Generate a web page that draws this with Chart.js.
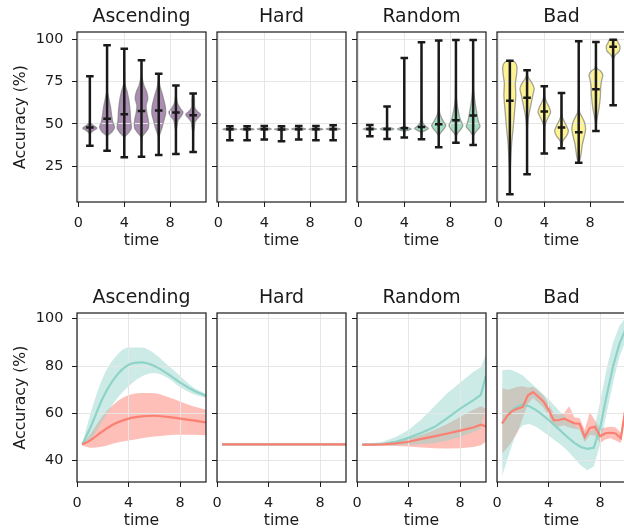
<!DOCTYPE html>
<html>
<head>
<meta charset="utf-8">
<script src="https://cdn.jsdelivr.net/npm/chart.js@4.4.1/dist/chart.umd.min.js"></script>
<style>
  html, body { margin: 0; padding: 0; background: #fff; overflow: hidden; }
  #wrap { position: relative; width: 624px; height: 531px; overflow: hidden; }
  canvas { position: absolute; }
</style>
</head>
<body>
<div id="wrap"></div>
<script>
// small multiples: violins (top row) and mean +/- band lines (bottom row)

const TITLES = ["Ascending", "Hard", "Random", "Bad"];
const VIOLIN_POS = [1, 2.5, 4, 5.5, 7, 8.5, 10];

// --- top row: min, max, mean per violin, and [value, half-width] outline profiles
const ascMin = [37.1, 34.1, 30.2, 30.6, 31.5, 32.1, 33.3];
const ascMax = [78.2, 96.7, 94.5, 87.7, 79.8, 72.8, 68.1];
const ascMean = [47.9, 53.0, 55.8, 57.7, 57.9, 56.8, 55.2];
const ascShape = [
  [[37.1, 0], [44, 0.02], [46, 0.3], [47.5, 0.62], [49, 0.3], [51, 0.03], [78.2, 0]],
  [[34.1, 0], [43, 0.05], [45, 0.4], [48, 0.65], [51, 0.5], [55, 0.4], [60, 0.3], [66, 0.12], [70, 0.02], [96.7, 0]],
  [[30.2, 0], [42, 0.03], [44.5, 0.35], [47.5, 0.62], [52, 0.55], [58, 0.5], [64, 0.4], [69, 0.25], [74, 0.05], [94.5, 0]],
  [[30.6, 0], [42, 0.03], [44.5, 0.3], [47.5, 0.6], [52, 0.6], [57, 0.45], [61, 0.4], [65, 0.55], [69, 0.45], [73, 0.2], [79, 0.03], [87.7, 0]],
  [[31.5, 0], [42, 0.02], [45, 0.15], [48, 0.3], [52, 0.45], [56, 0.6], [60, 0.58], [64, 0.45], [68, 0.3], [72, 0.12], [76, 0.03], [79.8, 0]],
  [[32.1, 0], [46, 0.02], [49, 0.1], [52, 0.18], [55, 0.5], [57, 0.62], [59, 0.4], [62, 0.15], [66, 0.04], [72.8, 0]],
  [[33.3, 0], [45, 0.03], [48, 0.1], [51, 0.15], [53, 0.35], [55.5, 0.65], [57.5, 0.35], [60, 0.13], [64, 0.12], [67, 0.08], [68.1, 0]],
];

const hardMin = [40.3, 40.3, 40.7, 39.7, 40.7, 40.3, 40.3];
const hardMax = [48.6, 48.6, 48.8, 48.6, 48.8, 48.8, 49.2];
const hardMean = [46.8, 46.8, 46.9, 46.7, 46.9, 46.8, 46.9];
const hardShape = [
  [[40.3, 0], [45.8, 0.02], [46.4, 0.35], [46.9, 0.62], [47.4, 0.35], [48.0, 0.02], [48.6, 0]],
  [[40.3, 0], [45.8, 0.02], [46.4, 0.35], [46.9, 0.62], [47.4, 0.35], [48.0, 0.02], [48.6, 0]],
  [[40.7, 0], [45.9, 0.02], [46.5, 0.35], [47.0, 0.62], [47.5, 0.35], [48.1, 0.02], [48.8, 0]],
  [[39.7, 0], [45.7, 0.02], [46.3, 0.35], [46.8, 0.62], [47.3, 0.35], [47.9, 0.02], [48.6, 0]],
  [[40.7, 0], [45.9, 0.02], [46.5, 0.35], [47.0, 0.62], [47.5, 0.35], [48.1, 0.02], [48.8, 0]],
  [[40.3, 0], [45.8, 0.02], [46.4, 0.35], [46.9, 0.62], [47.4, 0.35], [48.0, 0.02], [48.8, 0]],
  [[40.3, 0], [45.9, 0.02], [46.5, 0.35], [47.0, 0.62], [47.5, 0.35], [48.1, 0.02], [49.2, 0]],
];

const randMin = [42.7, 41.1, 41.9, 40.9, 36.1, 38.9, 37.5];
const randMax = [49.4, 60.4, 89.1, 98.4, 99.4, 99.8, 99.8];
const randMean = [47.0, 47.0, 47.4, 48.2, 49.8, 52.2, 55.0];
const randShape = [
  [[42.7, 0], [46, 0.05], [46.5, 0.35], [47, 0.6], [47.5, 0.35], [48, 0.05], [49.4, 0]],
  [[41.1, 0], [45.8, 0.05], [46.4, 0.35], [47, 0.6], [47.6, 0.35], [48.3, 0.05], [60.4, 0]],
  [[41.9, 0], [45.5, 0.05], [46.3, 0.35], [47, 0.6], [47.8, 0.35], [48.8, 0.06], [55, 0.01], [89.1, 0]],
  [[40.9, 0], [45, 0.05], [46, 0.3], [47.3, 0.6], [48.7, 0.35], [50.5, 0.12], [55, 0.03], [98.4, 0]],
  [[36.1, 0], [43, 0.03], [45, 0.2], [47, 0.45], [49, 0.62], [51, 0.45], [53.5, 0.25], [56, 0.1], [60, 0.03], [99.4, 0]],
  [[38.9, 0], [43, 0.03], [45, 0.2], [47, 0.45], [49, 0.6], [51, 0.48], [54, 0.32], [57, 0.22], [61, 0.12], [66, 0.04], [99.8, 0]],
  [[37.5, 0], [43, 0.03], [45, 0.2], [47, 0.45], [48.5, 0.6], [50.5, 0.5], [54, 0.38], [58, 0.28], [62, 0.18], [66, 0.1], [71, 0.03], [99.8, 0]],
];

const badMin = [8.3, 20.1, 32.4, 35.5, 27.0, 45.8, 61.0];
const badMax = [87.5, 81.8, 72.4, 68.3, 99.0, 98.6, 99.9];
const badMean = [63.7, 65.5, 57.4, 47.9, 45.1, 70.5, 95.7];
const badShape = [
  [[8.3, 0], [20, 0.02], [29, 0.08], [38, 0.15], [47, 0.28], [58, 0.42], [67, 0.52], [74, 0.48], [79, 0.58], [84, 0.62], [86.5, 0.45], [87.5, 0.15]],
  [[20.1, 0], [45, 0.02], [52, 0.08], [57, 0.2], [62, 0.35], [67, 0.5], [71, 0.62], [74, 0.45], [77, 0.15], [79, 0.03], [81.8, 0]],
  [[32.4, 0], [48, 0.03], [51, 0.15], [54, 0.35], [57, 0.55], [60, 0.42], [63, 0.2], [66, 0.05], [72.4, 0]],
  [[35.5, 0], [40, 0.12], [43, 0.45], [46, 0.6], [49, 0.42], [52, 0.2], [55, 0.05], [60, 0.02], [68.3, 0]],
  [[27.0, 0], [29, 0.12], [33, 0.22], [38, 0.32], [43, 0.5], [47, 0.6], [51, 0.5], [54, 0.3], [57, 0.08], [62, 0.02], [99.0, 0]],
  [[45.8, 0], [50, 0.03], [55, 0.15], [60, 0.28], [66, 0.38], [72, 0.42], [76, 0.5], [79, 0.6], [81.5, 0.38], [83, 0.08], [86, 0.01], [98.6, 0]],
  [[61.0, 0], [88, 0.02], [91, 0.2], [93, 0.52], [96, 0.6], [98, 0.45], [99.9, 0.32]],
];

// --- bottom row: mean line with upper / lower band, two series per panel
const ascX = [0.4, 1, 2, 3, 4, 5, 6, 7, 8, 9, 10];
const ascTeal = [46.8, 53.5, 66.5, 75.5, 80.5, 81.5, 80, 76.8, 73, 69.8, 67.4];
const ascTealHi = [47, 59, 75, 84, 87.8, 87.8, 85.3, 80.5, 75.8, 71, 68.3];
const ascTealLo = [46.6, 48.5, 57, 65.5, 71.5, 75.5, 77, 75, 71, 68.2, 66.6];
const ascRed = [46.8, 48.5, 52.5, 55.8, 57.8, 58.7, 59, 58.5, 57.8, 57, 56.2];
const ascRedHi = [47, 51, 59, 64.5, 67.6, 68.6, 68.5, 67, 65, 63, 61.5];
const ascRedLo = [46.5, 45.5, 46, 47.5, 48.5, 49.5, 50.2, 50.8, 51, 51, 50.8];

const hardX = [0.4, 2, 4, 6, 8, 10];
const hardTeal = [46.9, 46.9, 46.9, 46.9, 46.9, 46.9];
const hardTealHi = [47.3, 47.3, 47.3, 47.3, 47.3, 47.3];
const hardTealLo = [46.5, 46.5, 46.5, 46.5, 46.5, 46.5];
const hardRed = [46.9, 46.9, 46.9, 46.9, 46.9, 46.9];
const hardRedHi = [47.4, 47.4, 47.4, 47.4, 47.4, 47.4];
const hardRedLo = [46.4, 46.4, 46.4, 46.4, 46.4, 46.4];

const randX = [0.4, 1, 2, 3, 4, 5, 6, 7, 8, 9, 9.6, 10];
const randTeal = [46.8, 46.8, 47, 48, 49.7, 51.8, 54.2, 58, 62, 65.5, 67.8, 76];
const randTealHi = [47.2, 47.3, 48, 50, 53, 57.5, 63, 68.5, 73, 77.5, 79.5, 85];
const randTealLo = [46.4, 46.4, 46.4, 46.5, 46.7, 47, 47.5, 48.5, 50, 52, 53.5, 64];
const randRed = [46.8, 46.8, 46.9, 47.3, 48, 49.2, 50.3, 51.5, 52.7, 54, 55.2, 54.5];
const randRedHi = [47, 47.1, 47.3, 48.2, 49.5, 51, 53, 55.5, 58.5, 61.5, 63, 62];
const randRedLo = [46.5, 46.5, 46.4, 46.2, 46, 45.6, 45.3, 45.2, 45.3, 45.8, 46.5, 48];

const badTX = [0.4, 1, 1.5, 2, 2.5, 3, 3.5, 4, 4.5, 5, 5.5, 6, 6.5, 7, 7.5, 8, 8.5, 9, 9.5, 10];
const badTeal = [55.8, 60.5, 62.8, 63.8, 63, 61.5, 59.5, 57.2, 54.8, 52.3, 49.8, 47.5, 45.8, 45, 45.5, 54, 67.5, 80, 89.5, 96];
const badTealHi = [78.2, 78.5, 77.5, 76, 73.5, 71, 68.5, 66, 63, 60, 57.5, 55, 53, 52, 53, 65, 79, 90, 97, 101];
const badTealLo = [33.5, 44, 52, 55, 55.5, 54.5, 52.5, 50.5, 48.5, 46.5, 44, 41, 38, 36, 37.5, 47, 60, 73, 84, 91];
const badRX = [0.4, 0.8, 1.2, 1.6, 2.0, 2.4, 2.8, 3.2, 3.6, 4.0, 4.4, 4.8, 5.2, 5.6, 6.0, 6.4, 6.8, 7.2, 7.6, 8.0, 8.4, 8.8, 9.2, 9.6, 10.0];
const badRed = [55.8, 59, 61, 62, 62.7, 67.6, 69, 67, 65, 61.5, 57, 57.2, 57.8, 56.8, 55.8, 55.6, 50, 53.8, 54.3, 50.3, 51.6, 51.8, 51.5, 49.5, 63.5];
const badRedHi = [70.6, 70, 70.5, 71.2, 71.5, 70.8, 71.2, 69.5, 67.5, 64, 59.8, 59.5, 60, 63, 58.3, 58, 53, 60.5, 57, 53.5, 54, 54.3, 54, 51.8, 65.5];
const badRedLo = [43, 45.5, 48.5, 52, 58, 64, 66.5, 64.5, 62.5, 59, 54.5, 54.5, 55, 54, 53.5, 53.2, 47.8, 51, 50.5, 47.5, 49, 49.5, 48.5, 47.5, 61.5];

// --- styling
const FONT = "'DejaVu Sans', sans-serif";
const INK = "#1a1a1a";
const GRID = "#e6e6e6";
const TEAL = "#8dd3c7", RED = "#fb8072";
const TEAL_BAND = "rgba(141,211,199,0.45)", RED_BAND = "rgba(251,128,114,0.5)";
const VIOLIN_FILL = ["rgba(68,1,84,0.45)", "rgba(49,104,142,0.45)", "rgba(53,183,121,0.45)", "rgba(253,231,37,0.5)"];
const VIOLIN_EDGE = "rgba(125,125,125,0.7)";

const FRAME_LEFT = [77, 217, 357, 497];
const PANEL_W = 129, Y_W = 78, PAD_R = 8, PAD_T = 32, X_H = 50;

function violinDatasets(col, mins, maxs, means, shapes) {
  const ds = [];
  shapes.forEach((prof, i) => {
    const p = VIOLIN_POS[i];
    // right side going up, left side coming back down
    const pts = prof.map(([y, w]) => ({ x: p + w, y }));
    for (let k = prof.length - 1; k >= 0; k--) {
      const [y, w] = prof[k];
      if (w > 0) pts.push({ x: p - w, y });
    }
    pts.push({ ...pts[0] });
    ds.push({
      data: pts, showLine: true, fill: "shape", tension: 0.25,
      backgroundColor: VIOLIN_FILL[col], borderColor: VIOLIN_EDGE, borderWidth: 1.3,
      pointRadius: 0, order: 5,
    });
  });
  const cap = 0.33;
  const bars = [];
  VIOLIN_POS.forEach((p, i) => {
    bars.push(
      { x: p, y: mins[i] }, { x: p, y: maxs[i] }, { x: p, y: null },
      { x: p - cap, y: mins[i] }, { x: p + cap, y: mins[i] }, { x: p, y: null },
      { x: p - cap, y: maxs[i] }, { x: p + cap, y: maxs[i] }, { x: p, y: null },
      { x: p - cap, y: means[i] }, { x: p + cap, y: means[i] }, { x: p, y: null }
    );
  });
  ds.push({
    data: bars, showLine: true, fill: false, spanGaps: false,
    borderColor: INK, borderWidth: 2.5, borderCapStyle: "butt",
    pointRadius: 0, order: 0,
  });
  return ds;
}

const pts = (xs, ys) => xs.map((x, i) => ({ x, y: ys[i] }));

function bandDatasets(tx, teal, tealHi, tealLo, rx, red, redHi, redLo, smooth) {
  const curve = smooth ? { cubicInterpolationMode: "monotone" } : { tension: 0 };
  const hidden = { borderColor: "rgba(0,0,0,0)", borderWidth: 0, pointRadius: 0, showLine: true };
  return [
    { data: pts(rx, red), showLine: true, borderColor: RED, borderWidth: 2.2, pointRadius: 0, fill: false, order: 1, ...curve },
    { data: pts(tx, teal), showLine: true, borderColor: TEAL, borderWidth: 2.2, pointRadius: 0, fill: false, order: 2, ...curve },
    { data: pts(tx, tealLo), ...hidden, fill: false, order: 3, ...curve },
    { data: pts(tx, tealHi), ...hidden, fill: 2, backgroundColor: TEAL_BAND, order: 3, ...curve },
    { data: pts(rx, redLo), ...hidden, fill: false, order: 5, ...curve },
    { data: pts(rx, redHi), ...hidden, fill: 4, backgroundColor: RED_BAND, order: 5, ...curve },
  ];
}

function panelPlugin(title) {
  return {
    id: "panel",
    // grid goes over the filled areas but under the lines
    beforeDatasetsDraw(chart) {
      const { ctx, chartArea: a, scales: { x, y } } = chart;
      const al = (v) => Math.round(v - 0.5) + 0.5;
      ctx.save();
      ctx.strokeStyle = GRID;
      ctx.lineWidth = 1;
      ctx.beginPath();
      x.ticks.forEach(t => { const px = al(x.getPixelForValue(t.value)); ctx.moveTo(px, a.top); ctx.lineTo(px, a.bottom); });
      y.ticks.forEach(t => { const py = al(y.getPixelForValue(t.value)); ctx.moveTo(a.left, py); ctx.lineTo(a.right, py); });
      ctx.stroke();
      ctx.restore();
    },
    afterDraw(chart) {
      const { ctx, chartArea: a } = chart;
      ctx.save();
      ctx.strokeStyle = INK;
      ctx.lineWidth = 1.2;
      ctx.strokeRect(a.left, a.top, a.right - a.left, a.bottom - a.top);
      ctx.fillStyle = INK;
      ctx.font = `18.9px ${FONT}`;
      ctx.textAlign = "center";
      ctx.textBaseline = "alphabetic";
      ctx.fillText(title, (a.left + a.right) / 2, a.top - 10);
      ctx.restore();
    },
  };
}

function makePanel(row, col, datasets, xr, yr, yStep) {
  const wrap = document.getElementById("wrap");
  const c = document.createElement("canvas");
  const frameH = row === 0 ? 170 : 169;
  c.width = Y_W + PANEL_W + PAD_R;
  c.height = PAD_T + frameH + X_H;
  c.style.left = (FRAME_LEFT[col] - Y_W) + "px";
  c.style.top = (row === 0 ? 0 : 281) + "px";
  wrap.appendChild(c);
  const tickFont = { family: FONT, size: 14.4 };
  const labelFont = { family: FONT, size: 15.7 };
  return new Chart(c, {
    type: "scatter",
    data: { datasets },
    options: {
      responsive: false,
      devicePixelRatio: 1,
      animation: false,
      events: [],
      layout: { padding: { top: PAD_T, right: PAD_R, left: 0, bottom: 0 } },
      plugins: {
        legend: { display: false },
        tooltip: { enabled: false },
        filler: { drawTime: "beforeDatasetsDraw" },
      },
      scales: {
        x: {
          type: "linear", min: xr[0], max: xr[1],
          border: { display: false },
          grid: { color: GRID, lineWidth: 1, tickLength: 5, tickColor: INK, tickWidth: 1 },
          ticks: { stepSize: 4, includeBounds: false, padding: 8, color: INK, font: tickFont, maxRotation: 0, autoSkip: false },
          title: { display: true, text: "time", color: INK, font: labelFont, padding: { top: 0, bottom: 1.6 } },
          afterFit: (s) => { s.height = X_H; },
        },
        y: {
          type: "linear", min: yr[0], max: yr[1],
          border: { display: false },
          grid: { color: GRID, lineWidth: 1, tickLength: 5, tickColor: INK, tickWidth: 1 },
          ticks: {
            stepSize: yStep, includeBounds: false, padding: 8.7, color: INK, font: tickFont,
            callback: col === 0 ? (v) => String(v) : () => "",
          },
          title: { display: col === 0, text: "Accuracy (%)", color: INK, font: labelFont, padding: { top: 12.6, bottom: 0 } },
          afterFit: (s) => { s.width = Y_W; },
        },
      },
    },
    plugins: [panelPlugin(TITLES[col])],
  });
}

const TOP_X = [-0.12, 11.12], TOP_Y = [3.7, 104.5];
const BOT_X = [0, 10], BOT_Y = [31, 102.4];

makePanel(0, 0, violinDatasets(0, ascMin, ascMax, ascMean, ascShape), TOP_X, TOP_Y, 25);
makePanel(0, 1, violinDatasets(1, hardMin, hardMax, hardMean, hardShape), TOP_X, TOP_Y, 25);
makePanel(0, 2, violinDatasets(2, randMin, randMax, randMean, randShape), TOP_X, TOP_Y, 25);
makePanel(0, 3, violinDatasets(3, badMin, badMax, badMean, badShape), TOP_X, TOP_Y, 25);

makePanel(1, 0, bandDatasets(ascX, ascTeal, ascTealHi, ascTealLo, ascX, ascRed, ascRedHi, ascRedLo, true), BOT_X, BOT_Y, 20);
makePanel(1, 1, bandDatasets(hardX, hardTeal, hardTealHi, hardTealLo, hardX, hardRed, hardRedHi, hardRedLo, false), BOT_X, BOT_Y, 20);
makePanel(1, 2, bandDatasets(randX, randTeal, randTealHi, randTealLo, randX, randRed, randRedHi, randRedLo, false), BOT_X, BOT_Y, 20);
makePanel(1, 3, bandDatasets(badTX, badTeal, badTealHi, badTealLo, badRX, badRed, badRedHi, badRedLo, false), BOT_X, BOT_Y, 20);
</script>
</body>
</html>
